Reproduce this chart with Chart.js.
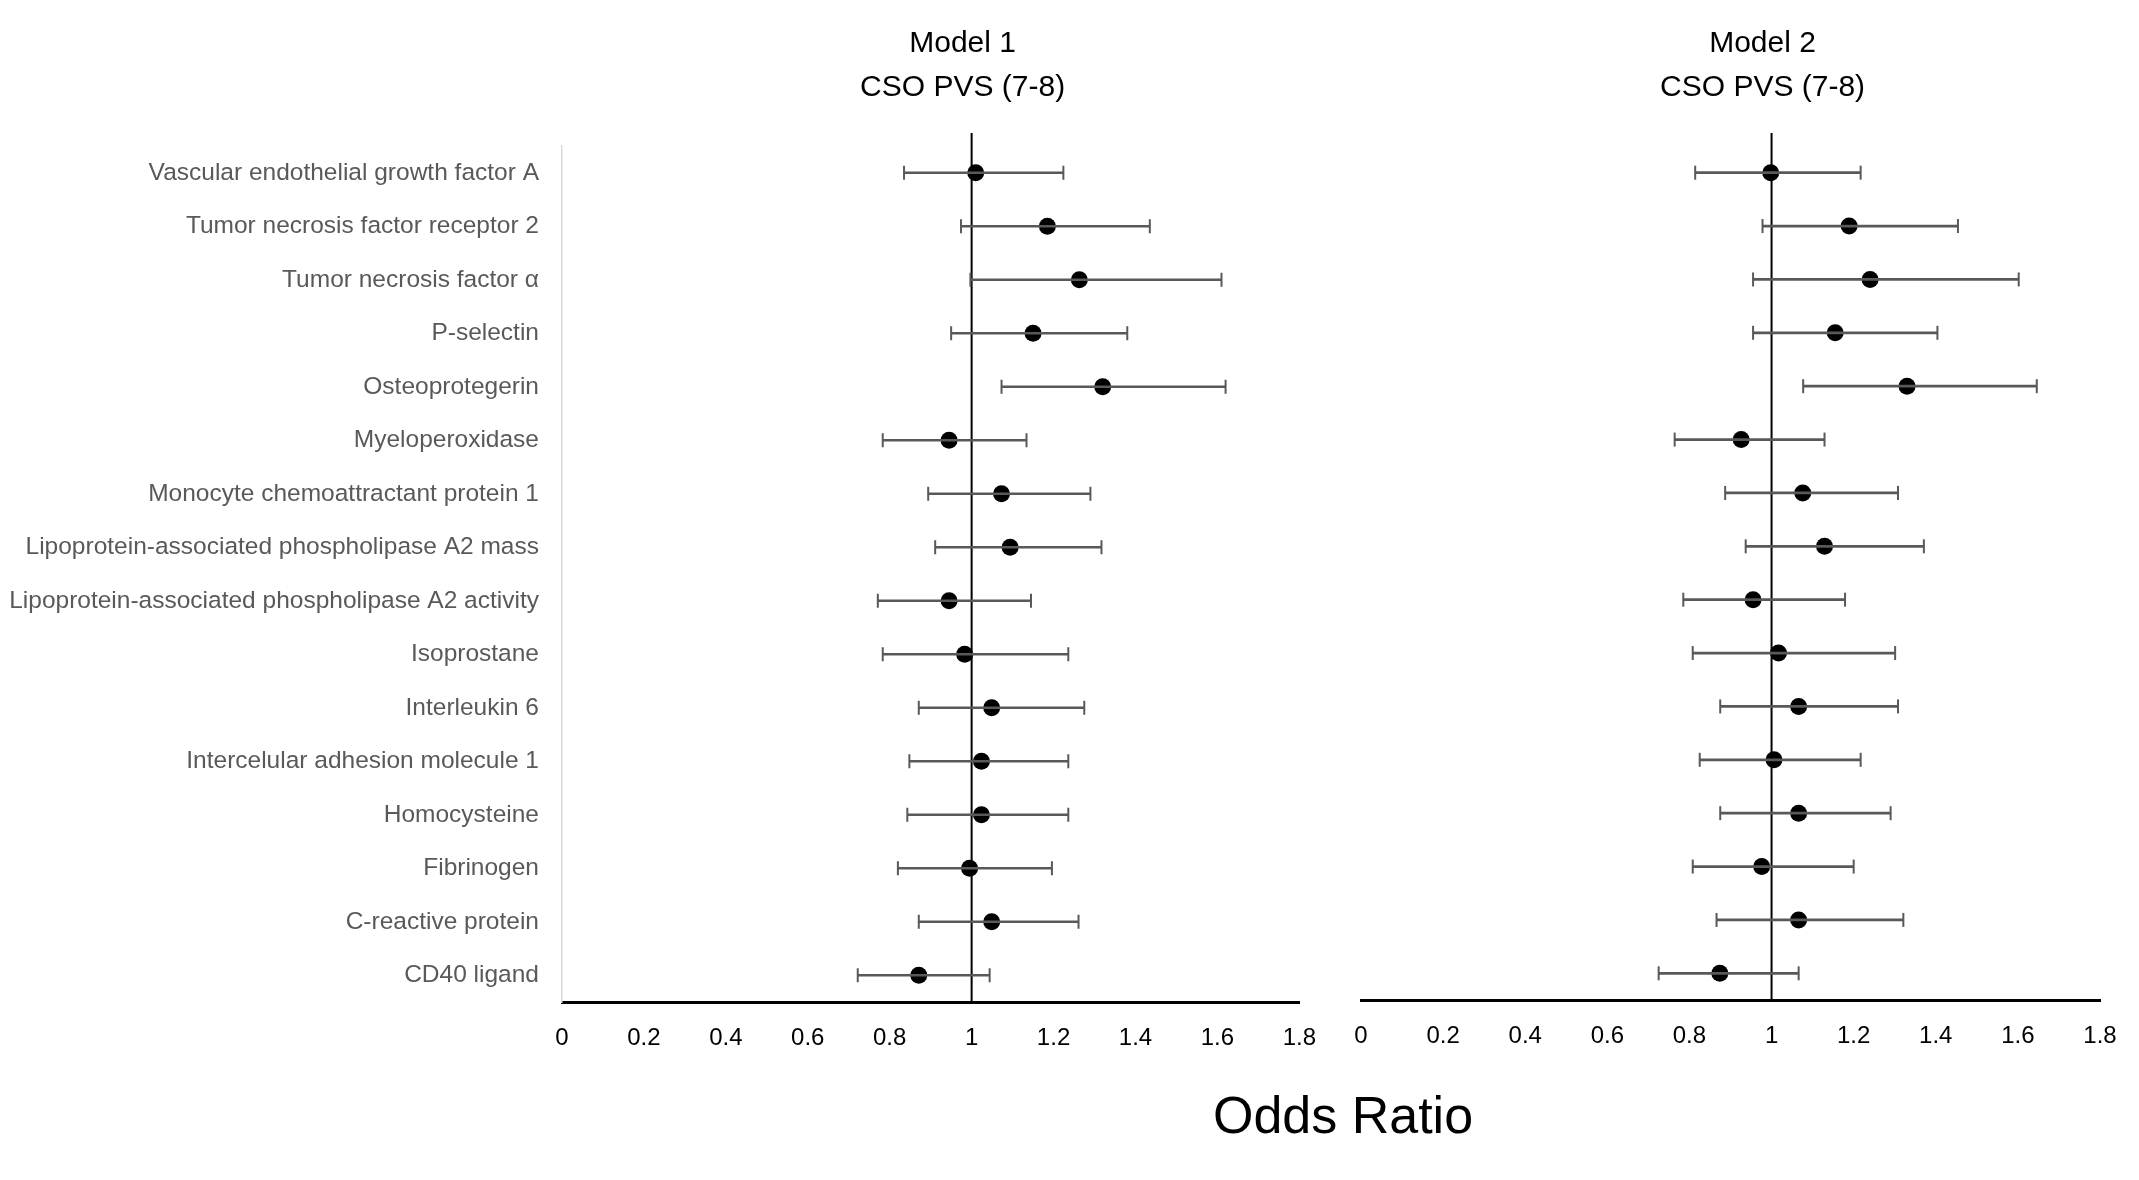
<!DOCTYPE html>
<html>
<head>
<meta charset="utf-8">
<script src="https://cdn.jsdelivr.net/npm/chart.js@4"></script>
<style>
  html, body { margin: 0; padding: 0; background: #fff; overflow: hidden; }
  #wrap { position: relative; width: 2139px; height: 1180px; }
  #c1 { position: absolute; left: 0; top: 0; }
  #c2 { position: absolute; left: 1320px; top: 0; }
  #xtitle {
    position: absolute; left: 1343px; top: 1115px; transform: translate(-50%, -50%);
    font-family: 'Liberation Sans', Arial, sans-serif; font-size: 52px; color: #000;
    white-space: nowrap;
  }
</style>
</head>
<body>
<div id="wrap">
  <canvas id="c1" width="1338" height="1180"></canvas>
  <canvas id="c2" width="819" height="1180"></canvas>
  <div id="xtitle">Odds Ratio</div>
</div>
<script>
// --------------------
// Data
// --------------------
const categories = [
  'Vascular endothelial growth factor A',
  'Tumor necrosis factor receptor 2',
  'Tumor necrosis factor \u03b1',
  'P-selectin',
  'Osteoprotegerin',
  'Myeloperoxidase',
  'Monocyte chemoattractant protein 1',
  'Lipoprotein-associated phospholipase A2 mass',
  'Lipoprotein-associated phospholipase A2 activity',
  'Isoprostane',
  'Interleukin 6',
  'Intercelular adhesion molecule 1',
  'Homocysteine',
  'Fibrinogen',
  'C-reactive protein',
  'CD40 ligand'
];

const model1Or = [1.01, 1.185, 1.263, 1.15, 1.32, 0.945, 1.073, 1.094, 0.945, 0.983, 1.049, 1.024, 1.024, 0.995, 1.049, 0.871];
const model1Lo = [0.835, 0.974, 0.997, 0.95, 1.073, 0.783, 0.894, 0.911, 0.771, 0.783, 0.871, 0.848, 0.843, 0.82, 0.871, 0.722];
const model1Hi = [1.224, 1.435, 1.61, 1.38, 1.62, 1.134, 1.29, 1.317, 1.145, 1.236, 1.275, 1.236, 1.236, 1.196, 1.261, 1.044];

const model2Or = [0.998, 1.189, 1.24, 1.155, 1.33, 0.926, 1.076, 1.129, 0.955, 1.017, 1.066, 1.006, 1.066, 0.976, 1.066, 0.874];
const model2Lo = [0.814, 0.978, 0.955, 0.955, 1.077, 0.764, 0.887, 0.937, 0.785, 0.808, 0.875, 0.825, 0.875, 0.808, 0.866, 0.725];
const model2Hi = [1.217, 1.454, 1.602, 1.404, 1.646, 1.129, 1.308, 1.371, 1.179, 1.301, 1.308, 1.217, 1.29, 1.2, 1.321, 1.066];

const xTickLabels = ['0', '0.2', '0.4', '0.6', '0.8', '1', '1.2', '1.4', '1.6', '1.8'];
const referenceValue = 1;

const FONT = "'Liberation Sans', Arial, sans-serif";

// --------------------
// Plugin: caps, reference line, panel titles
// --------------------
const forestPlugin = {
  id: 'forest',
  beforeDatasetsDraw(chart) {
    const { ctx, chartArea, scales } = chart;
    const x = scales.x.getPixelForValue(referenceValue);
    ctx.save();
    ctx.strokeStyle = '#000';
    ctx.lineWidth = 2;
    ctx.beginPath();
    ctx.moveTo(x, chartArea.top - 13);
    ctx.lineTo(x, chartArea.bottom);
    ctx.stroke();
    ctx.restore();
  },
  afterDatasetsDraw(chart) {
    const { ctx, scales } = chart;
    const ranges = chart.data.datasets[0].data;
    ctx.save();
    ctx.strokeStyle = '#595959';
    ctx.lineWidth = 2;
    ranges.forEach((r, i) => {
      const y = scales.y.getPixelForValue(i);
      [r[0], r[1]].forEach(v => {
        const px = scales.x.getPixelForValue(v);
        ctx.beginPath();
        ctx.moveTo(px, y - 7);
        ctx.lineTo(px, y + 7);
        ctx.stroke();
      });
    });
    ctx.restore();
  },
  afterDraw(chart) {
    const opts = chart.options.plugins.forest;
    const { ctx, scales } = chart;
    const x = scales.x.getPixelForValue(referenceValue) - 9;
    ctx.save();
    ctx.fillStyle = '#000';
    ctx.font = '30px ' + FONT;
    ctx.textAlign = 'center';
    ctx.textBaseline = 'middle';
    opts.titles.forEach((t, i) => ctx.fillText(t, x, 44 + i * 44));
    ctx.restore();
  }
};

function makeForest(canvasId, orData, loData, hiData, titles, showLabels, padding) {
  const ctx = document.getElementById(canvasId);
  return new Chart(ctx, {
    type: 'bar',
    data: {
      labels: categories,
      datasets: [
        {
          type: 'bar',
          data: loData.map((lo, i) => [lo, hiData[i]]),
          backgroundColor: '#595959',
          barThickness: 2,
          borderSkipped: false
        },
        {
          type: 'line',
          data: orData,
          showLine: false,
          pointRadius: 8.5,
          pointHoverRadius: 8.5,
          pointBackgroundColor: '#000',
          pointBorderColor: '#000',
          pointBorderWidth: 0
        }
      ]
    },
    options: {
      indexAxis: 'y',
      responsive: false,
      animation: false,
      layout: { padding },
      plugins: {
        legend: { display: false },
        tooltip: { enabled: false },
        forest: { titles }
      },
      scales: {
        x: {
          type: 'linear',
          min: 0,
          max: 1.8,
          ticks: {
            stepSize: 0.2,
            padding: 22,
            color: '#000',
            font: { family: FONT, size: 24 },
            callback: (v, i) => xTickLabels[i]
          },
          grid: { display: false, drawTicks: false },
          border: { display: true, color: '#000', width: 3 },
          afterFit: s => { s.height = 60; }
        },
        y: {
          type: 'category',
          display: showLabels,
          offset: true,
          ticks: {
            padding: 23,
            color: '#595959',
            font: { family: FONT, size: 24.5 }
          },
          grid: { display: false, drawTicks: false },
          border: { display: true, color: '#d9d9d9', width: 1.5 },
          afterFit: s => { if (showLabels) s.width = 562; }
        }
      }
    },
    plugins: [forestPlugin]
  });
}

makeForest('c1', model1Or, model1Lo, model1Hi, ['Model 1', 'CSO PVS (7-8)'], true,
  { left: 0, right: 16, top: 146, bottom: 118 });
makeForest('c2', model2Or, model2Lo, model2Hi, ['Model 2', 'CSO PVS (7-8)'], false,
  { left: 41, right: 39, top: 146, bottom: 120 });
</script>
</body>
</html>
